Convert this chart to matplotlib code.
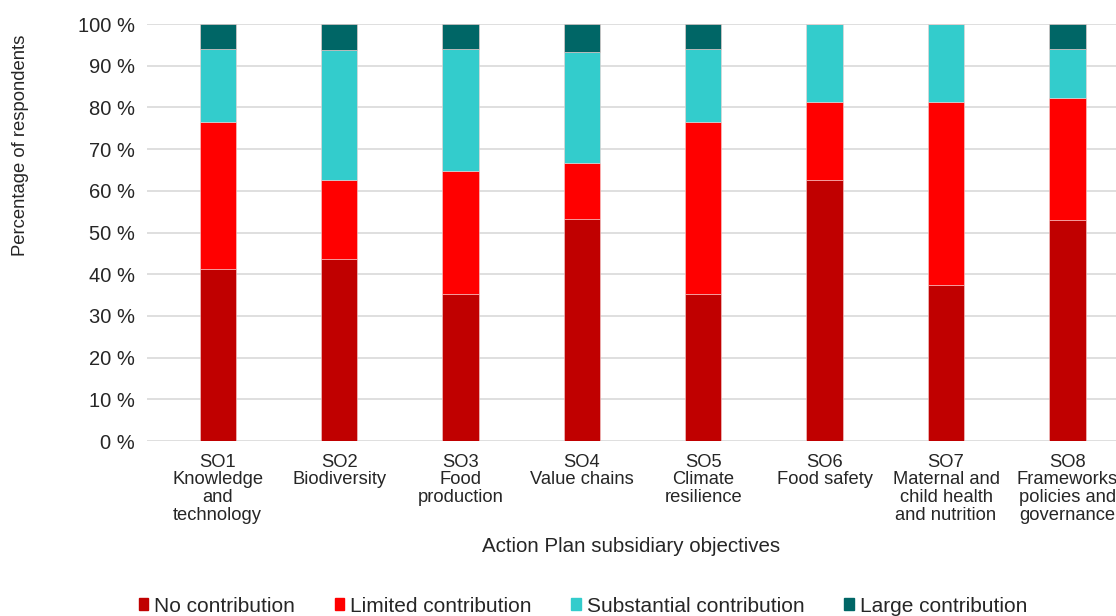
import matplotlib
matplotlib.use('Agg')
import matplotlib.pyplot as plt
import numpy as np
from matplotlib.patches import Patch

plt.rcParams['font.family'] = ['Liberation Sans', 'DejaVu Sans']

categories = ['SO1\nKnowledge\nand\ntechnology', 'SO2\nBiodiversity', 'SO3\nFood\nproduction',
              'SO4\nValue chains', 'SO5\nClimate\nresilience', 'SO6\nFood safety',
              'SO7\nMaternal and\nchild health\nand nutrition', 'SO8\nFrameworks\npolicies and\ngovernance']
no_contrib = [41.2, 43.75, 35.3, 53.3, 35.3, 62.5, 37.5, 52.9]
limited = [35.3, 18.75, 29.4, 13.3, 41.2, 18.75, 43.75, 29.4]
substantial = [17.6, 31.25, 29.4, 26.7, 17.6, 18.75, 18.75, 11.8]
large = [5.9, 6.25, 5.9, 6.7, 5.9, 0, 0, 5.9]

series = [('No contribution', no_contrib, '#C00000'),
          ('Limited contribution', limited, '#FF0000'),
          ('Substantial contribution', substantial, '#33CCCC'),
          ('Large contribution', large, '#006666')]

fig = plt.figure(figsize=(11.16, 6.16), dpi=100)
ax = fig.add_axes([0.132, 0.284, 0.868, 0.677])

x = np.arange(len(categories))
bottom = np.zeros(len(categories))
for name, vals, col in series:
    ax.bar(x, vals, width=0.3, bottom=bottom, color=col, edgecolor='#f4d0d0', linewidth=0.4, zorder=3)
    bottom += np.array(vals)

ax.set_ylim(0, 100)
ax.set_xlim(-0.58, 7.4)
ax.set_yticks(range(0, 101, 10))
ax.set_yticklabels([f'{v} %' for v in range(0, 101, 10)], fontsize=14.5, color='#262626')
ax.set_xticks(x)
ax.set_xticklabels(categories, fontsize=13.2, color='#262626', linespacing=1.05)
ax.tick_params(axis='y', length=0, pad=9)
ax.tick_params(axis='x', length=0, pad=9)
ax.grid(axis='y', color='#d9d9d9', linewidth=1.2, zorder=0)
for s in ax.spines.values():
    s.set_visible(False)

fig.text(0.018, 1 - 145 / 616, 'Percentage of respondents', rotation=90, ha='center', va='center',
         fontsize=13.3, color='#262626')
fig.text(631 / 1116, 1 - 547 / 616, 'Action Plan subsidiary objectives', ha='center', va='center',
         fontsize=14.8, color='#262626')

handles = [Patch(color=col, label=name) for name, vals, col in series]
fig.legend(handles=handles, loc='center', bbox_to_anchor=(583 / 1116, 1 - 606 / 616), ncol=4,
           frameon=False, fontsize=15, handlelength=0.45, handleheight=0.45, handletextpad=0.3,
           columnspacing=1.9, labelcolor='#262626')

fig.savefig('out.png', dpi=100)
